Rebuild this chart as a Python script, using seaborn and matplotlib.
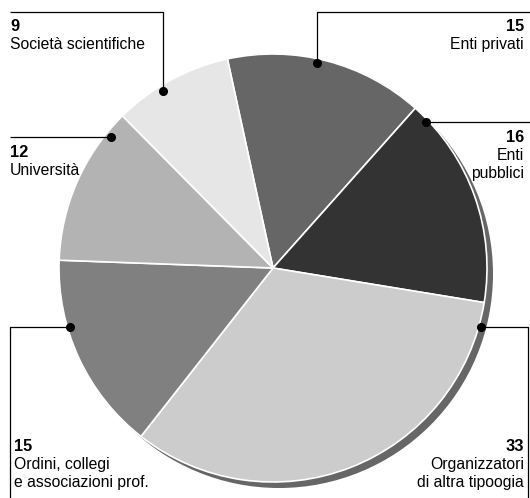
import numpy as np
import seaborn as sns
import matplotlib.pyplot as plt
from matplotlib.patches import Circle

# data, clockwise from the top
labels = ["Enti privati", "Enti\npubblici", "Organizzatori\ndi altra tipoogia",
          "Ordini, collegi\ne associazioni prof.", "Università", "Società scientifiche"]
values = [15, 16, 33, 15, 12, 9]
colors = ["#666666", "#333333", "#cccccc", "#808080", "#b3b3b3", "#e6e6e6"]

sns.set_theme(style="white")
plt.rcParams["font.family"] = ["Liberation Sans Narrow", "Liberation Sans", "DejaVu Sans"]
plt.rcParams["text.color"] = "black"

W, H = 530, 498
fig = plt.figure(figsize=(W / 100, H / 100), dpi=100)
ax = fig.add_axes([0, 0, 1, 1])

cx, cy, r = 273, 268, 214

# drop shadow
ax.add_patch(Circle((cx + 6, cy + 6), r, color="#666666", zorder=0, lw=0))

ax.pie(values, colors=colors, startangle=-102.3, counterclock=True,
       center=(cx, cy), radius=r,
       wedgeprops=dict(edgecolor="white", linewidth=1.2))

ax.set_xlim(0, W)
ax.set_ylim(H, 0)
ax.set_aspect("equal")
ax.axis("off")

# leader lines: dot on the wedge, then elbow to the text
leaders = [
    [(317, 63), (317, 12), (540, 12)],
    [(426, 122), (540, 122)],
    [(481, 327), (528, 327), (528, 510)],
    [(70, 327), (10, 327), (10, 510)],
    [(111, 137), (10, 137)],
    [(163, 91), (163, 12), (10, 12)],
]
for pts in leaders:
    xs, ys = zip(*pts)
    ax.plot(xs, ys, color="black", lw=0.9, solid_capstyle="butt", clip_on=False)
    ax.plot(xs[0], ys[0], "o", color="black", ms=5.5)

fs = 11.3
lh = 18
# (x, baseline of number, ha)
text_pos = [
    (524, 31, "right"),
    (524, 142, "right"),
    (524, 451, "right"),
    (14, 451, "left"),
    (10, 157, "left"),
    (10, 31, "left"),
]
for (x, y, ha), v, lab in zip(text_pos, values, labels):
    ax.text(x, y, str(v), ha=ha, va="baseline", fontsize=fs + 0.5, fontweight="bold")
    for i, line in enumerate(lab.split("\n")):
        ax.text(x, y + lh * (i + 1), line, ha=ha, va="baseline", fontsize=fs)

fig.savefig("out.png", dpi=100)
